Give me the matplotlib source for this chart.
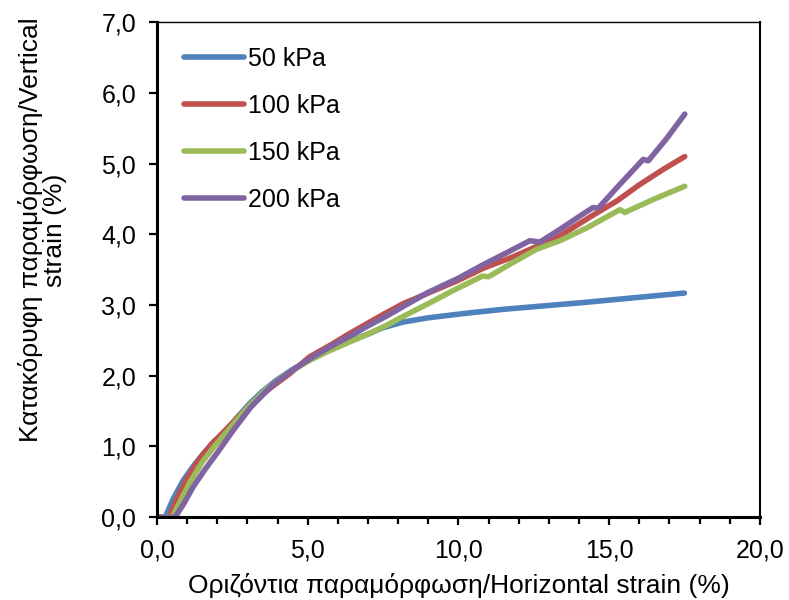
import matplotlib.pyplot as plt
from matplotlib.ticker import FuncFormatter, MultipleLocator

plt.rcParams['font.family'] = ['Liberation Sans', 'DejaVu Sans']

# Horizontal strain (%) and vertical strain (%) for each normal stress
x_50 = [0, 0.27, 0.55, 0.87, 1.2, 1.54, 1.9, 2.31, 2.7, 3.08, 3.5, 3.97, 4.5, 5.07, 5.7,
        6.4, 7.0, 7.5, 8.17, 9.0, 10.38, 11.5, 12.6, 14.0, 15.25, 16.5, 17.5]
y_50 = [0, 0, 0.27, 0.52, 0.72, 0.90, 1.07, 1.23, 1.43, 1.61, 1.78, 1.94, 2.09, 2.23, 2.37,
        2.49, 2.59, 2.68, 2.76, 2.82, 2.89, 2.94, 2.98, 3.03, 3.08, 3.13, 3.17]

x_100 = [0, 0.4, 0.7, 1.0, 1.4, 1.8, 2.2, 2.7, 3.2, 3.8, 4.4, 5.07, 5.7, 6.4, 7.06, 7.6,
         8.17, 9.0, 10.0, 10.82, 11.8, 12.6, 13.37, 14.5, 15.25, 16.0, 16.8, 17.51]
y_100 = [0, 0, 0.3, 0.55, 0.82, 1.03, 1.2, 1.42, 1.62, 1.84, 2.03, 2.27, 2.42, 2.6, 2.76, 2.89,
         3.02, 3.17, 3.35, 3.52, 3.68, 3.83, 3.98, 4.28, 4.47, 4.7, 4.92, 5.10]

x_150 = [0, 0.5, 0.8, 1.1, 1.5, 1.9, 2.4, 3.0, 3.6, 4.2, 5.07, 5.7, 6.4, 7.06, 7.6, 8.17,
         9.0, 9.8, 10.8, 11.0, 11.8, 12.6, 13.37, 14.3, 15.36, 15.52, 16.5, 17.51]
y_150 = [0, 0, 0.25, 0.5, 0.78, 1.0, 1.25, 1.55, 1.8, 2.0, 2.22, 2.35, 2.48, 2.6, 2.71, 2.84,
         3.02, 3.2, 3.41, 3.40, 3.6, 3.79, 3.91, 4.1, 4.35, 4.31, 4.5, 4.68]

x_200 = [0, 0.6, 0.9, 1.2, 1.6, 1.98, 2.53, 3.1, 3.8, 4.4, 5.07, 5.7, 6.4, 7.06, 7.6, 8.17,
         9.0, 10.0, 10.82, 11.6, 12.37, 12.7, 13.37, 14.0, 14.47, 14.64, 15.3, 16.13, 16.3,
         16.9, 17.51]
y_200 = [0, 0, 0.2, 0.43, 0.68, 0.90, 1.23, 1.55, 1.86, 2.05, 2.24, 2.4, 2.56, 2.72, 2.84, 2.98,
         3.18, 3.38, 3.57, 3.74, 3.91, 3.89, 4.07, 4.25, 4.38, 4.37, 4.68, 5.06, 5.04,
         5.35, 5.70]

labels = ['50 kPa', '100 kPa', '150 kPa', '200 kPa']
colors = ['#4F81BD', '#C0504D', '#9BBB59', '#8064A2']

fig = plt.figure(figsize=(7.89, 6), dpi=100)
ax = fig.add_axes([0.199, 0.138, 0.764, 0.825])

series = [(x_50, y_50), (x_100, y_100), (x_150, y_150), (x_200, y_200)]
for (xs, ys), lab, col in zip(series, labels, colors):
    ax.plot(xs, ys, color=col, lw=4, label=lab, solid_capstyle='round',
            solid_joinstyle='round')

ax.set_xlim(0, 20)
ax.set_ylim(0, 7)
ax.xaxis.set_major_locator(MultipleLocator(5))
ax.xaxis.set_minor_locator(MultipleLocator(1))
ax.yaxis.set_major_locator(MultipleLocator(1))

comma = FuncFormatter(lambda v, pos: f'{v:.1f}'.replace('.', ','))
ax.xaxis.set_major_formatter(comma)
ax.yaxis.set_major_formatter(comma)

ax.tick_params(which='major', direction='out', length=6, width=1.6, labelsize=18, pad=9)
ax.tick_params(which='minor', direction='out', length=5, width=1.6)

ax.spines['left'].set_linewidth(2.2)
ax.spines['bottom'].set_linewidth(2.2)
ax.spines['top'].set_linewidth(1.0)
ax.spines['right'].set_linewidth(1.5)

ax.set_xlabel('Οριζόντια παραμόρφωση/Horizontal strain (%)', fontsize=19, labelpad=8)
ax.set_ylabel('Κατακόρυφη παραμόρφωση/Vertical\nstrain (%)', fontsize=19,
              linespacing=1.0)
ax.yaxis.set_label_coords(-0.149, 0.58)

ax.legend(loc='upper left', bbox_to_anchor=(0.024, 0.975), frameon=False, fontsize=18,
          handlelength=2.4, handletextpad=0.16, labelspacing=0.92, borderpad=0)

fig.savefig('out.png', dpi=100)
